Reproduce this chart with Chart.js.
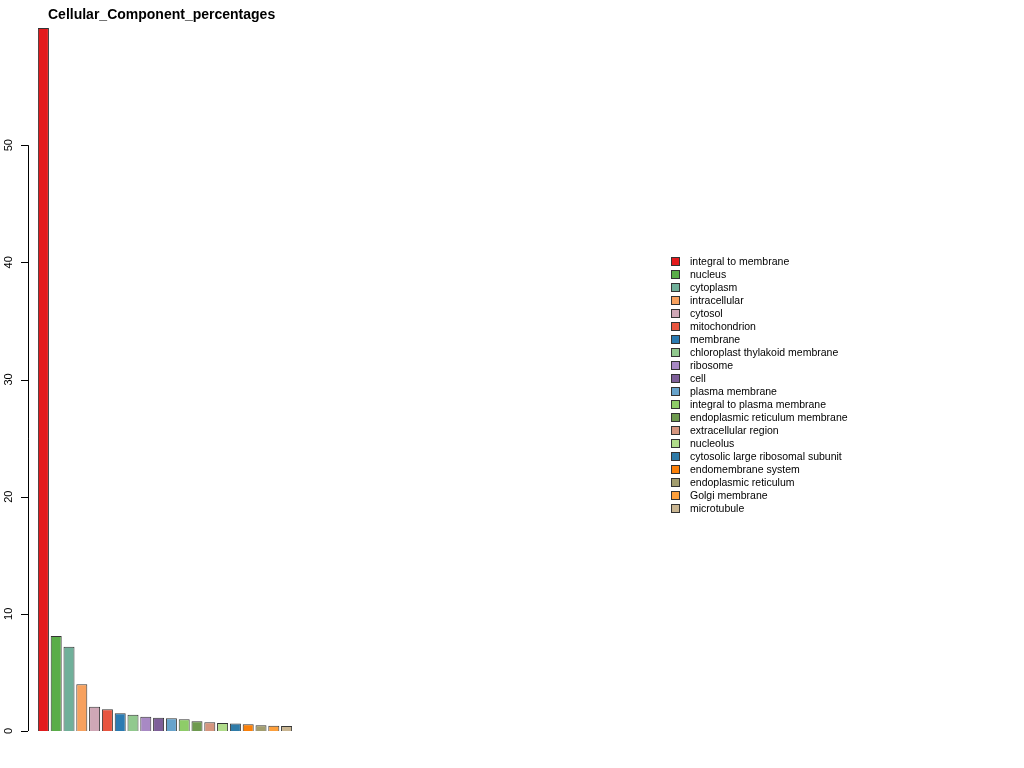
<!DOCTYPE html>
<html>
<head>
<meta charset="utf-8">
<script src="https://cdn.jsdelivr.net/npm/chart.js@4"></script>
<style>
  body { margin: 0; background: #fff; font-family: "Liberation Sans", Arial, sans-serif; }
  #wrap { position: relative; width: 1024px; height: 768px; }
  #title { position: absolute; left: 48px; top: 6px; font-weight: bold; font-size: 14px; }
  #legend { position: absolute; left: 671px; top: 255px; font-size: 10.5px; line-height: 13px; }
  #legend div { white-space: nowrap; }
  #legend span { display: inline-block; width: 7px; height: 7px; border: 1px solid #333; margin-right: 10px; vertical-align: -1px; }
</style>
</head>
<body>
<div id="wrap">
  <canvas id="c" width="1024" height="768"></canvas>
  <div id="title">Cellular_Component_percentages</div>
  <div id="legend"></div>
</div>
<script>
const categories = ['integral to membrane', 'nucleus', 'cytoplasm', 'intracellular', 'cytosol',
  'mitochondrion', 'membrane', 'chloroplast thylakoid membrane', 'ribosome', 'cell',
  'plasma membrane', 'integral to plasma membrane', 'endoplasmic reticulum membrane',
  'extracellular region', 'nucleolus', 'cytosolic large ribosomal subunit', 'endomembrane system',
  'endoplasmic reticulum', 'Golgi membrane', 'microtubule'];
const percentages = [60.0, 8.1, 7.2, 4.0, 2.07, 1.85, 1.51, 1.39, 1.22, 1.14,
  1.08, 1.0, 0.83, 0.74, 0.68, 0.65, 0.57, 0.49, 0.45, 0.43];
const colors = ['#e31a1c', '#5aad48', '#70b09a', '#f7a15e', '#cfa7b6', '#e8553f', '#2b7bb2',
  '#91c98e', '#a889c4', '#7e5f99', '#67a3cb', '#8ecc68', '#6e9a4f', '#d5957e', '#b0dc8a',
  '#2f7ba8', '#fb8009', '#a29d6e', '#fd9f3b', '#c9b591'];
const yTicks = [0, 10, 20, 30, 40, 50];

const legend = document.getElementById('legend');
categories.forEach((c, i) => {
  legend.innerHTML += '<div><span style="background:' + colors[i] + '"></span>' + c + '</div>';
});

const axisPlugin = {
  id: 'rAxis',
  afterDraw(chart) {
    const ctx = chart.ctx, y = chart.scales.y;
    const x0 = 28;
    ctx.save();
    ctx.strokeStyle = '#000';
    ctx.lineWidth = 1;
    ctx.beginPath();
    ctx.moveTo(x0 + 0.5, y.getPixelForValue(yTicks[0]));
    ctx.lineTo(x0 + 0.5, y.getPixelForValue(yTicks[yTicks.length - 1]));
    ctx.fillStyle = '#000';
    ctx.font = '11px "Liberation Sans", Arial, sans-serif';
    ctx.textAlign = 'center';
    yTicks.forEach(t => {
      const py = Math.round(y.getPixelForValue(t)) + 0.5;
      ctx.moveTo(x0, py);
      ctx.lineTo(x0 - 7, py);
    });
    ctx.stroke();
    yTicks.forEach(t => {
      const py = y.getPixelForValue(t);
      ctx.save();
      ctx.translate(12, py);
      ctx.rotate(-Math.PI / 2);
      ctx.fillText(String(t), 0, 0);
      ctx.restore();
    });
    ctx.restore();
  }
};

new Chart(document.getElementById('c'), {
  type: 'bar',
  data: {
    labels: categories,
    datasets: [{
      data: percentages,
      backgroundColor: colors,
      borderColor: '#333',
      borderWidth: 1,
      barPercentage: 0.86,
      categoryPercentage: 1
    }]
  },
  options: {
    responsive: false,
    animation: false,
    layout: { padding: { left: 37, right: 731, top: 28, bottom: 37 } },
    plugins: { legend: { display: false }, tooltip: { enabled: false } },
    scales: {
      x: { display: false },
      y: { display: false, min: 0, max: 60 }
    }
  },
  plugins: [axisPlugin]
});
</script>
</body>
</html>
